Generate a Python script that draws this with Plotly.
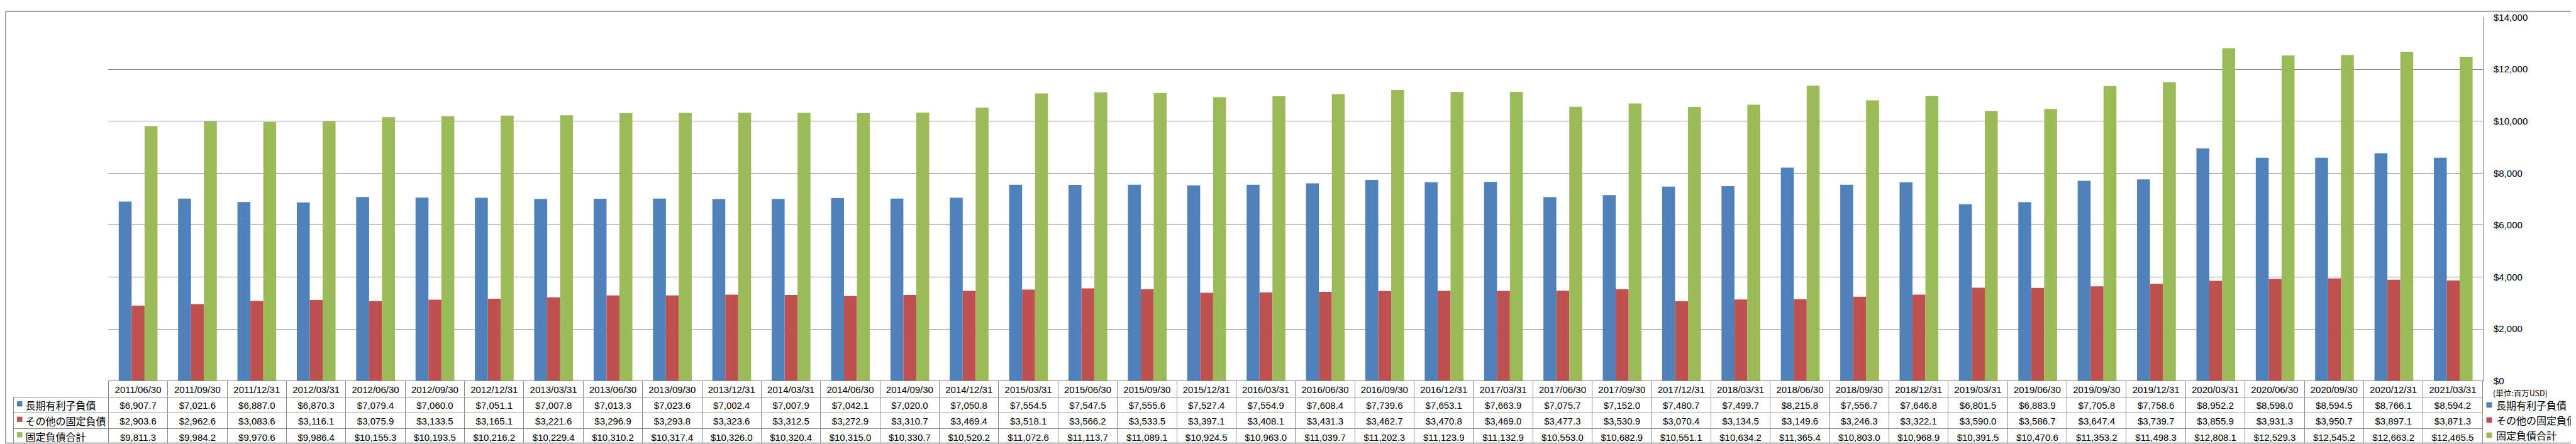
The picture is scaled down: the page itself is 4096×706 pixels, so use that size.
import plotly.graph_objects as go

periods = [
    "2011/06/30", "2011/09/30", "2011/12/31", "2012/03/31", "2012/06/30", "2012/09/30",
    "2012/12/31", "2013/03/31", "2013/06/30", "2013/09/30", "2013/12/31", "2014/03/31",
    "2014/06/30", "2014/09/30", "2014/12/31", "2015/03/31", "2015/06/30", "2015/09/30",
    "2015/12/31", "2016/03/31", "2016/06/30", "2016/09/30", "2016/12/31", "2017/03/31",
    "2017/06/30", "2017/09/30", "2017/12/31", "2018/03/31", "2018/06/30", "2018/09/30",
    "2018/12/31", "2019/03/31", "2019/06/30", "2019/09/30", "2019/12/31", "2020/03/31",
    "2020/06/30", "2020/09/30", "2020/12/31", "2021/03/31",
]

long_term_debt = [
    6907.7, 7021.6, 6887.0, 6870.3, 7079.4, 7060.0,
    7051.1, 7007.8, 7013.3, 7023.6, 7002.4, 7007.9,
    7042.1, 7020.0, 7050.8, 7554.5, 7547.5, 7555.6,
    7527.4, 7554.9, 7608.4, 7739.6, 7653.1, 7663.9,
    7075.7, 7152.0, 7480.7, 7499.7, 8215.8, 7556.7,
    7646.8, 6801.5, 6883.9, 7705.8, 7758.6, 8952.2,
    8598.0, 8594.5, 8766.1, 8594.2,
]

other_noncurrent = [
    2903.6, 2962.6, 3083.6, 3116.1, 3075.9, 3133.5,
    3165.1, 3221.6, 3296.9, 3293.8, 3323.6, 3312.5,
    3272.9, 3310.7, 3469.4, 3518.1, 3566.2, 3533.5,
    3397.1, 3408.1, 3431.3, 3462.7, 3470.8, 3469.0,
    3477.3, 3530.9, 3070.4, 3134.5, 3149.6, 3246.3,
    3322.1, 3590.0, 3586.7, 3647.4, 3739.7, 3855.9,
    3931.3, 3950.7, 3897.1, 3871.3,
]

total_noncurrent = [
    9811.3, 9984.2, 9970.6, 9986.4, 10155.3, 10193.5,
    10216.2, 10229.4, 10310.2, 10317.4, 10326.0, 10320.4,
    10315.0, 10330.7, 10520.2, 11072.6, 11113.7, 11089.1,
    10924.5, 10963.0, 11039.7, 11202.3, 11123.9, 11132.9,
    10553.0, 10682.9, 10551.1, 10634.2, 11365.4, 10803.0,
    10968.9, 10391.5, 10470.6, 11353.2, 11498.3, 12808.1,
    12529.3, 12545.2, 12663.2, 12465.5,
]

series_names = ["長期有利子負債", "その他の固定負債", "固定負債合計"]
series_colors = ["#4F81BD", "#C0504D", "#9BBB59"]
series_values = [long_term_debt, other_noncurrent, total_noncurrent]
unit_label = "(単位:百万USD)"

W, H = 4096, 706
GRID = "#898989"
FONT = "Liberation Sans, Noto Sans CJK JP, sans-serif"
CJK = "Noto Sans CJK JP, sans-serif"

plot_left, plot_right = 164.4, 3940.0
plot_top, plot_bottom = 10.7, 603.4
table_left, table_bottom = 13.2, 704.0
row_h = (table_bottom - plot_bottom) / 4

fig = go.Figure()
for name, color, vals in zip(series_names, series_colors, series_values):
    fig.add_trace(go.Bar(
        x=periods, y=vals, name=name, marker=dict(color=color, line=dict(width=0)),
        showlegend=False, hoverinfo="x+y+name",
    ))

# table: first column holds the series names (swatches drawn as shapes)
first_col = ["\u2002\u2009" + n for n in series_names]
value_cols = [[f"${v[i]:,.1f}" for v in series_values] for i in range(len(periods))]

ncol = len(periods)
col_w = (plot_right - plot_left) / ncol
fig.add_trace(go.Table(
    domain=dict(x=[table_left / W, plot_right / W], y=[(H - table_bottom) / H, (H - plot_bottom) / H]),
    columnwidth=[plot_left - table_left] + [col_w] * ncol,
    header=dict(
        values=[""] + periods,
        height=row_h,
        align="center",
        fill=dict(color="white"),
        line=dict(color=GRID, width=[0] + [1] * ncol),
        font=dict(family=FONT, size=15, color="#000000"),
    ),
    cells=dict(
        values=[first_col] + value_cols,
        height=row_h,
        align=["left"] + ["center"] * ncol,
        fill=dict(color="white"),
        line=dict(color=GRID, width=1),
        font=dict(family=[CJK] + [FONT] * ncol, size=[16] + [15] * ncol, color="#000000"),
    ),
))

annotations = [
    dict(text=unit_label, x=3954 / W, y=(H - 622) / H, xref="paper", yref="paper",
         xanchor="left", yanchor="middle", showarrow=False,
         font=dict(family=CJK, size=12.5, color="#000000")),
]
shapes = []
sw_l, sw_r = 8.5, 9.0
right_centers = [642.8, 667.5, 692.1]
for i, (n, c) in enumerate(zip(series_names, series_colors)):
    yc_r = right_centers[i]
    annotations.append(dict(
        text=n, x=3958.5 / W, y=(H - yc_r) / H, xref="paper", yref="paper",
        xanchor="left", yanchor="middle", showarrow=False,
        font=dict(family=CJK, size=16, color="#000000"),
    ))
    shapes.append(dict(type="rect", xref="paper", yref="paper",
                       x0=3945.5 / W, x1=(3945.5 + sw_r) / W,
                       y0=(H - yc_r - sw_r / 2 + 0.5) / H, y1=(H - yc_r + sw_r / 2 + 0.5) / H,
                       fillcolor=c, line=dict(width=0), layer="above"))
    yc_l = plot_bottom + row_h * (i + 1.5)
    shapes.append(dict(type="rect", xref="paper", yref="paper",
                       x0=19.0 / W, x1=(19.0 + sw_l) / W,
                       y0=(H - yc_l - sw_l / 2 + 0.5) / H, y1=(H - yc_l + sw_l / 2 + 0.5) / H,
                       fillcolor=c, line=dict(width=0), layer="above"))

shapes.append(dict(type="rect", xref="paper", yref="paper", x0=1 / W, x1=4093 / W,
                   y0=(H - 704.5) / H, y1=(H - 1) / H, line=dict(color=GRID, width=1.5),
                   fillcolor="rgba(0,0,0,0)", layer="above"))

fig.update_layout(
    width=W, height=H,
    margin=dict(l=0, r=0, t=0, b=0, pad=0),
    paper_bgcolor="white", plot_bgcolor="white",
    barmode="group", bargap=0.347, bargroupgap=0,
    xaxis=dict(
        type="category", domain=[plot_left / W, plot_right / W], range=[-0.5, ncol - 0.5],
        showticklabels=False, ticks="", showgrid=False, zeroline=False,
        showline=True, linecolor=GRID, linewidth=1,
    ),
    yaxis=dict(
        domain=[(H - plot_bottom) / H, (H - plot_top) / H], range=[0, 14000], dtick=2000,
        side="right", showgrid=True, gridcolor=GRID, gridwidth=1, zeroline=False,
        showline=True, linecolor=GRID, linewidth=1, ticks="",
        tickprefix="$", tickformat=",d", ticklabelstandoff=13,
        tickfont=dict(family=FONT, size=15, color="#000000"),
    ),
    annotations=annotations,
    shapes=shapes,
    font=dict(family=FONT),
)

fig.write_html("out.html")
